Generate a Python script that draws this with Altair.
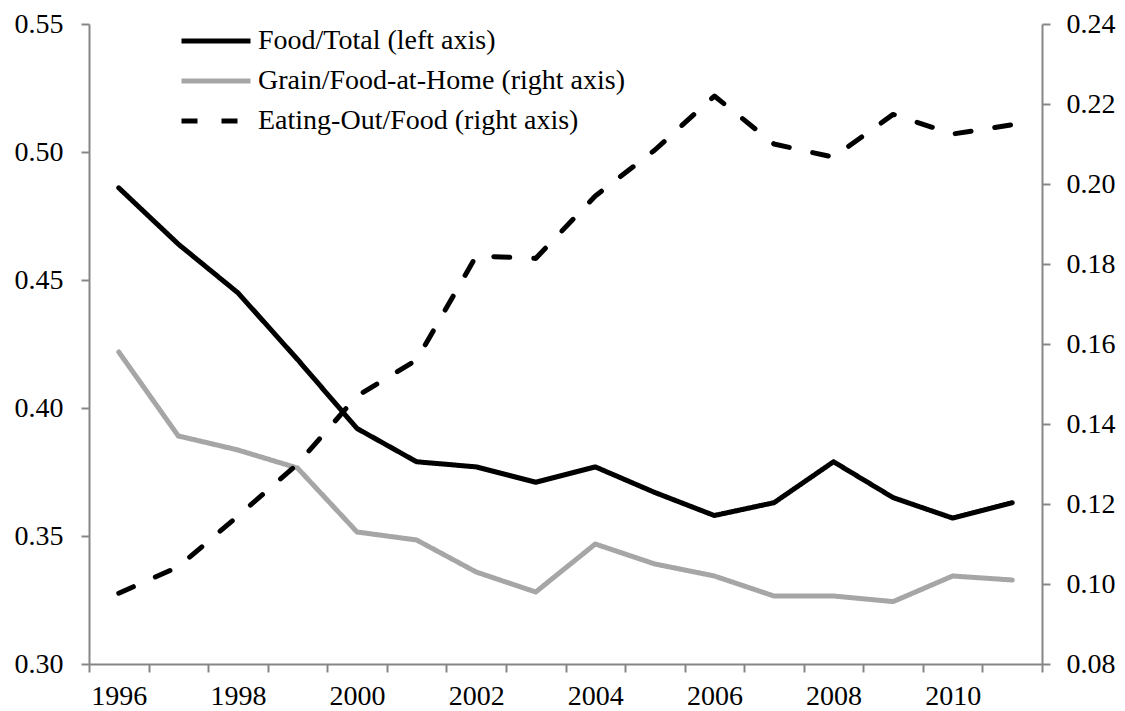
import altair as alt
import pandas as pd

years = list(range(1996, 2012))
food_total = [0.486, 0.464, 0.445, 0.419, 0.392, 0.379, 0.377, 0.371,
              0.377, 0.367, 0.358, 0.363, 0.379, 0.365, 0.357, 0.363]
grain_food_home = [0.158, 0.137, 0.1335, 0.129, 0.113, 0.111, 0.103, 0.098,
                   0.110, 0.105, 0.102, 0.097, 0.097, 0.0956, 0.102, 0.101]
eating_out_food = [0.0977, 0.1043, 0.117, 0.130, 0.147, 0.156, 0.182, 0.1814,
                   0.197, 0.2085, 0.222, 0.210, 0.2067, 0.2174, 0.2125, 0.2148]

series_names = ["Food/Total (left axis)",
                "Grain/Food-at-Home (right axis)",
                "Eating-Out/Food (right axis)"]
series_colors = ["#000000", "#a6a6a6", "#000000"]
series_dash = [[1, 0], [1, 0], [16, 24]]

left_ticks = [0.30, 0.35, 0.40, 0.45, 0.50, 0.55]
right_ticks = [0.08, 0.10, 0.12, 0.14, 0.16, 0.18, 0.20, 0.22, 0.24]
x_boundaries = [y - 0.5 for y in years] + [years[-1] + 0.5]

rows = []
for name, vals in zip(series_names, [food_total, grain_food_home, eating_out_food]):
    for yr, v in zip(years, vals):
        rows.append({"year": yr, "value": v, "series": name})
df = pd.DataFrame(rows)

W, H = 953, 640
FONT = "'Liberation Serif', 'Times New Roman', Tinos, 'DejaVu Serif', serif"
AX = "#868686"

x_enc = alt.X(
    "year:Q",
    scale=alt.Scale(domain=[1995.5, 2011.5], nice=False, zero=False),
    axis=alt.Axis(
        values=x_boundaries,
        labelExpr="((datum.value + 0.5) % 2 == 0 && datum.value < 2011) ? '' + (datum.value + 0.5) : ''",
        labelOffset=W / 16 / 2,
        labelFlush=False,
        labelOverlap=False,
        grid=False,
        tickSize=8,
        labelPadding=10,
        title=None,
    ),
)

legend = alt.Legend(
    title=None,
    orient="none",
    legendX=107,
    legendY=-3,
    symbolType="M-2,0H2",
    symbolSize=34.5 * 34.5,
    symbolStrokeWidth=5,
    labelFont=FONT,
    labelFontSize=28,
    labelColor="#000000",
    labelOffset=22,
    rowPadding=6,
    padding=0,
    labelLimit=600,
)

color_enc = alt.Color("series:N",
                      scale=alt.Scale(domain=series_names, range=series_colors),
                      legend=legend)
dash_enc = alt.StrokeDash("series:N",
                          scale=alt.Scale(domain=series_names, range=series_dash),
                          legend=legend)

base = alt.Chart(df)

left = base.transform_filter(
    alt.datum.series == series_names[0]
).mark_line(strokeWidth=5, strokeCap="round", strokeJoin="round").encode(
    x=x_enc,
    y=alt.Y("value:Q",
            scale=alt.Scale(domain=[0.30, 0.55], nice=False, zero=False),
            axis=alt.Axis(values=left_ticks, format=".2f", orient="left",
                          grid=False, tickSize=8, labelPadding=18, title=None)),
    color=color_enc,
    strokeDash=dash_enc,
    detail="series:N",
)

right = base.transform_filter(
    alt.datum.series != series_names[0]
).mark_line(strokeWidth=5, strokeCap="round", strokeJoin="round").encode(
    x=x_enc,
    y=alt.Y("value:Q",
            scale=alt.Scale(domain=[0.08, 0.24], nice=False, zero=False),
            axis=alt.Axis(values=right_ticks, format=".2f", orient="right",
                          grid=False, tickSize=8, labelPadding=16, title=None)),
    color=color_enc,
    strokeDash=dash_enc,
    detail="series:N",
)

chart = alt.layer(left, right).resolve_scale(y="independent").properties(
    width=W,
    height=H,
    autosize=alt.AutoSizeParams(type="none"),
    padding={"left": 81, "top": 16, "right": 75, "bottom": 45},
).configure_view(
    stroke=None
).configure_axis(
    labelFont=FONT,
    labelFontSize=28,
    labelColor="#000000",
    domainColor=AX,
    domainWidth=2,
    tickColor=AX,
    tickWidth=2,
)

chart.save("out.html", embed_options={"renderer": "svg", "actions": False})
